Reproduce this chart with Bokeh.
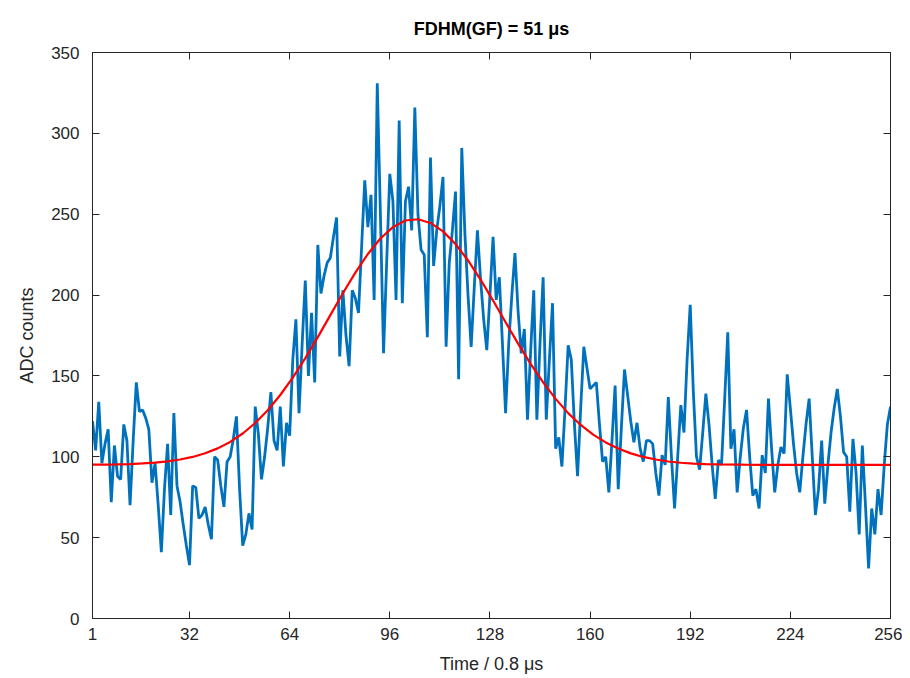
from bokeh.plotting import figure
from bokeh.models import FixedTicker, LinearAxis, Range1d
from bokeh.embed import file_html
from bokeh.resources import INLINE

# ADC counts per sample (1..256)
adc_counts = [
    122, 104, 134, 96, 108, 117, 72, 107, 88, 86,
    120, 110, 70, 110, 146, 128, 129, 124, 117, 84,
    96, 70, 41, 80, 108, 64, 127, 82, 72, 58,
    45, 33, 82, 81, 62, 64, 69, 58, 49, 100,
    98, 82, 69, 97, 100, 111, 125, 80, 45, 52,
    65, 55, 131, 114, 86, 100, 118, 140, 110, 104,
    131, 94, 121, 113, 160, 185, 127, 170, 209, 150,
    189, 146, 231, 201, 212, 220, 223, 236, 248, 162,
    203, 175, 156, 203, 198, 189, 230, 271, 242, 262,
    197, 331, 250, 164, 220, 275, 258, 197, 308, 195,
    258, 267, 240, 316, 250, 228, 225, 174, 285, 218,
    240, 255, 273, 168, 220, 240, 264, 148, 291, 238,
    200, 168, 205, 240, 210, 185, 166, 200, 236, 197,
    211, 170, 127, 170, 200, 226, 190, 164, 179, 123,
    165, 203, 123, 170, 211, 123, 160, 195, 105, 112,
    94, 130, 169, 160, 120, 88, 130, 168, 155, 142,
    144, 146, 120, 97, 100, 78, 110, 144, 80, 118,
    154, 138, 122, 109, 121, 105, 97, 110, 110, 108,
    90, 76, 101, 95, 137, 100, 68, 100, 132, 115,
    160, 194, 140, 100, 92, 115, 139, 120, 95, 74,
    98, 95, 135, 177, 105, 117, 78, 100, 118, 129,
    100, 76, 80, 68, 101, 90, 136, 105, 78, 95,
    106, 102, 151, 130, 108, 90, 78, 100, 120, 136,
    100, 64, 80, 110, 71, 95, 115, 130, 142, 125,
    103, 100, 66, 111, 90, 52, 107, 70, 31, 68,
    52, 80, 64, 95, 120, 131,
]
samples = list(range(1, len(adc_counts) + 1))

# Gaussian fit curve
fit_samples = [1, 5, 9, 13, 17, 21, 25, 29, 33, 37, 41, 45, 49, 53, 57, 61, 65,
               69, 73, 77, 81, 85, 89, 93, 97, 101, 105, 109, 113, 117, 121,
               125, 129, 133, 137, 141, 145, 149, 153, 157, 161, 165, 169, 173,
               177, 181, 185, 189, 193, 197, 201, 209, 217, 225, 233, 241, 249, 256]
fit_values = [95.1, 95.2, 95.3, 95.5, 95.9, 96.4, 97.2, 98.3, 99.9, 102.2, 105.2,
              109.2, 114.4, 120.9, 128.8, 138.2, 149.0, 161.0, 174.0, 187.6, 201.1,
              213.9, 225.4, 235.0, 242.0, 246.1, 246.9, 244.6, 239.4, 231.6, 221.4,
              209.6, 196.6, 183.2, 170.0, 157.5, 146.0, 135.8, 127.0, 119.7, 113.7,
              108.9, 105.1, 102.1, 99.9, 98.3, 97.1, 96.3, 95.8, 95.5, 95.3, 95.1,
              95.0, 95.0, 95.0, 95.0, 95.0, 95.0]

x_ticks = [1, 32, 64, 96, 128, 160, 192, 224, 256]
y_ticks = [0, 50, 100, 150, 200, 250, 300, 350]

FONT = "Liberation Sans"
AX = "#262626"

p = figure(width=902, height=676, output_backend="svg", toolbar_location=None,
           x_range=Range1d(1, 256), y_range=Range1d(0, 350),
           min_border_left=92, min_border_right=12, min_border_top=52,
           min_border_bottom=56)
p.title.text = "FDHM(GF) = 51 \u03bcs"
p.title.text_font = FONT
p.title.text_font_size = "18px"
p.title.text_font_style = "bold"
p.title.align = "center"
p.title.text_color = "#000000"
p.title.standoff = 27

p.grid.visible = False
p.outline_line_color = AX
p.outline_line_width = 1

p.xaxis.ticker = FixedTicker(ticks=x_ticks)
p.yaxis.ticker = FixedTicker(ticks=y_ticks)
p.xaxis.axis_label = "Time / 0.8 \u03bcs"
p.yaxis.axis_label = "ADC counts"
for ax in (p.xaxis[0], p.yaxis[0]):
    ax.major_tick_in = 7
    ax.major_tick_out = 0
    ax.minor_tick_line_color = None
    ax.axis_line_color = AX
    ax.major_tick_line_color = AX
    ax.major_label_text_font = FONT
    ax.major_label_text_font_size = "17px"
    ax.major_label_text_color = AX
    ax.axis_label_text_font = FONT
    ax.axis_label_text_font_size = "18px"
    ax.axis_label_text_font_style = "normal"
    ax.axis_label_text_color = AX
p.xaxis.major_label_standoff = 9
p.xaxis.axis_label_standoff = 11
p.yaxis.major_label_standoff = 13
p.yaxis.axis_label_standoff = 11

top = LinearAxis(ticker=FixedTicker(ticks=x_ticks),
                 major_label_overrides={t: "" for t in x_ticks},
                 major_tick_in=7, major_tick_out=0, minor_tick_line_color=None,
                 axis_line_color=AX, major_tick_line_color=AX, major_label_standoff=0)
right = LinearAxis(ticker=FixedTicker(ticks=y_ticks),
                   major_label_overrides={t: "" for t in y_ticks},
                   major_tick_in=7, major_tick_out=0, minor_tick_line_color=None,
                   axis_line_color=AX, major_tick_line_color=AX, major_label_standoff=0)
p.add_layout(top, "above")
p.add_layout(right, "right")

p.line(samples, adc_counts, line_color="#0072BD", line_width=2.8)
p.line(fit_samples, fit_values, line_color="#FF0000", line_width=2.2)

open("out.html", "w").write(file_html(p, INLINE))
